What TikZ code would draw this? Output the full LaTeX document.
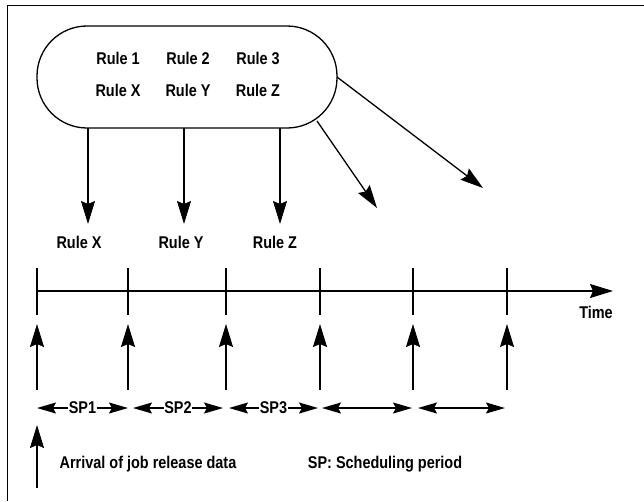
\documentclass[tikz,border=0pt]{standalone}
\usepackage{fontspec}
\setmainfont{Liberation Sans}[FakeStretch=0.85]
\usetikzlibrary{arrows.meta}
\begin{document}
\begin{tikzpicture}[x=1pt,y=-1pt,
  ln/.style={line width=1.3pt},
  arr/.style={ln,-{Stealth[length=23pt,width=14pt,inset=3pt]}},
  sarr/.style={ln,-{Stealth[length=19pt,width=11pt,inset=3pt]}},
  dblarr/.style={ln,{Stealth[length=19pt,width=11pt,inset=3pt]}-{Stealth[length=19pt,width=11pt,inset=3pt]}},
  lbl/.style={font=\fontsize{17}{20}\selectfont\bfseries,inner sep=0.5pt},
  box/.style={draw,ln,rounded corners=50pt,minimum width=300pt,minimum height=102pt,inner sep=0pt}]
\useasboundingbox (0,0) rectangle (644,501);
% frame
\coordinate (fA) at (7,5);
\coordinate (fB) at (644,5);
\coordinate (fC) at (7,501);
\draw[line width=1pt] (fB) -- (fA) -- (fC);
% rule box
\node[box] (rb) at (187,77) {};
\node[lbl] (r1) at (118,58) {Rule 1};
\node[lbl] (r2) at (188,58) {Rule 2};
\node[lbl] (r3) at (258,58) {Rule 3};
\node[lbl] (rx) at (118,90) {Rule X};
\node[lbl] (ry) at (188,90) {Rule Y};
\node[lbl] (rz) at (258,90) {Rule Z};
% down arrows
\coordinate (s1) at (88,128);
\coordinate (s2) at (184,128);
\coordinate (s3) at (280,128);
\coordinate (e1) at (88,224);
\coordinate (e2) at (184,224);
\coordinate (e3) at (280,224);
\draw[arr] (s1) -- (e1);
\draw[arr] (s2) -- (e2);
\draw[arr] (s3) -- (e3);
\node[lbl] (lx) at (79,242) {Rule X};
\node[lbl] (ly) at (181,242) {Rule Y};
\node[lbl] (lz) at (275,242) {Rule Z};
% diagonal arrows
\coordinate (d1s) at (317,121);
\coordinate (d1e) at (377,208);
\coordinate (d2s) at (337,77);
\coordinate (d2e) at (483,188);
\draw[arr] (d1s) -- (d1e);
\draw[arr] (d2s) -- (d2e);
% timeline
\coordinate (t0) at (37,291);
\coordinate (tE) at (613,291);
\draw[arr] (t0) -- (tE);
\node[lbl] (time) at (596,312) {Time};
\foreach \i/\x in {0/37,1/128,2/226,3/320,4/413,5/507}{
  \coordinate (ka\i) at (\x,268);
  \coordinate (kb\i) at (\x,315);
  \draw[ln] (ka\i) -- (kb\i);
  \coordinate (ua\i) at (\x,390);
  \coordinate (ub\i) at (\x,324);
  \draw[arr] (ua\i) -- (ub\i);
}
% scheduling periods
\node[lbl] (sp1) at (82.5,408) {SP1};
\node[lbl] (sp2) at (178,408) {SP2};
\node[lbl] (sp3) at (273.5,408) {SP3};
\coordinate (p1a) at (37,408);  \coordinate (p1b) at (128,408);
\coordinate (p2a) at (133,408); \coordinate (p2b) at (223,408);
\coordinate (p3a) at (229,408); \coordinate (p3b) at (318,408);
\coordinate (p4a) at (322,408); \coordinate (p4b) at (412,408);
\coordinate (p5a) at (418,408); \coordinate (p5b) at (505,408);
\draw[sarr] (sp1.west) -- (p1a);
\draw[sarr] (sp1.east) -- (p1b);
\draw[sarr] (sp2.west) -- (p2a);
\draw[sarr] (sp2.east) -- (p2b);
\draw[sarr] (sp3.west) -- (p3a);
\draw[sarr] (sp3.east) -- (p3b);
\draw[dblarr] (p4a) -- (p4b);
\draw[dblarr] (p5a) -- (p5b);
% legend
\coordinate (la) at (37,488);
\coordinate (lb) at (37,425);
\draw[arr] (la) -- (lb);
\node[lbl] (arrival) at (148,464) {Arrival of job release data};
\node[lbl] (spdef) at (385,464) {SP: Scheduling period};
\end{tikzpicture}
\end{document}
